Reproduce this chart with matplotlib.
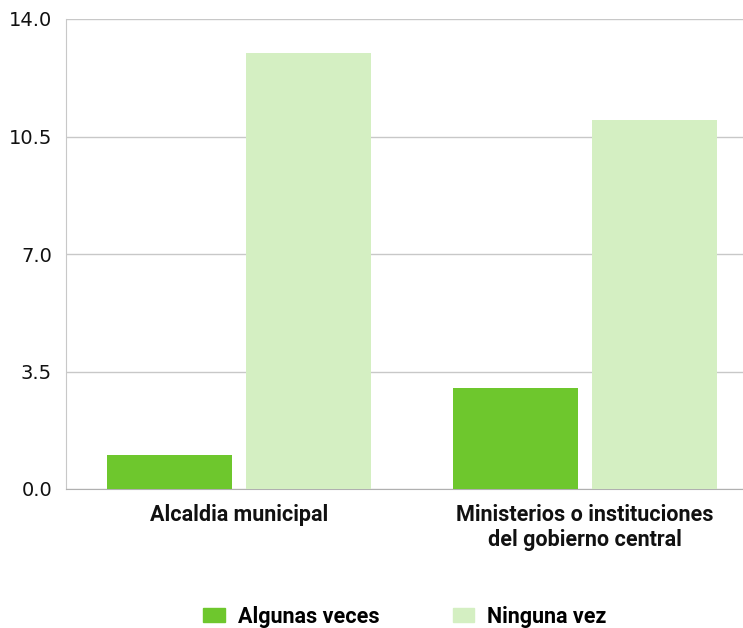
import matplotlib
matplotlib.use("Agg")
import matplotlib.pyplot as plt
import numpy as np
from matplotlib.patches import Patch

categories = ["Alcaldia municipal", "Ministerios o instituciones\ndel gobierno central"]
series_names = ["Algunas veces", "Ninguna vez"]
algunas = [1, 3]
ninguna = [13, 11]
yticks = [0.0, 3.5, 7.0, 10.5, 14.0]

colors = ["#6EC72D", "#D4EFC2"]
lab_font = ["Roboto", "DejaVu Sans"]

fig = plt.figure(figsize=(7.43, 6.28), dpi=100)
ax = fig.add_axes([66/743, (628-489)/628, 1-66/743, (489-19)/628])

x = np.arange(len(categories))
w = 0.361
off = 0.2009
ax.bar(x - off, algunas, width=w, color=colors[0], zorder=3)
ax.bar(x + off, ninguna, width=w, color=colors[1], zorder=3)

ax.set_xlim(-0.5, 1.457)
ax.set_ylim(0, 14)
ax.set_yticks(yticks)
ax.set_yticklabels([f"{v:.1f}" for v in yticks], fontsize=14, color="#111111")
ax.yaxis.grid(True, color="#c8c8c8", linewidth=1)
ax.set_axisbelow(True)
ax.tick_params(axis="y", length=0, pad=10)
ax.tick_params(axis="x", length=0, pad=11)
ax.set_xticks(x)
ax.set_xticklabels(categories, fontsize=15.5, family=lab_font,
                   fontweight="semibold", color="#111111", linespacing=1.15)
for s in ["top", "right"]:
    ax.spines[s].set_visible(False)
ax.spines["left"].set_color("#c8c8c8")
ax.spines["bottom"].set_color("#b0b0b0")

handles = [Patch(color=c) for c in colors]
fig.legend(handles, series_names, loc="center", bbox_to_anchor=(0.545, 0.018), ncol=2,
           frameon=False, handlelength=1.0, handleheight=0.65, handletextpad=0.6,
           columnspacing=3.4,
           prop={"family": lab_font, "weight": "semibold", "size": 15.5})

fig.savefig("out.png", dpi=100)
